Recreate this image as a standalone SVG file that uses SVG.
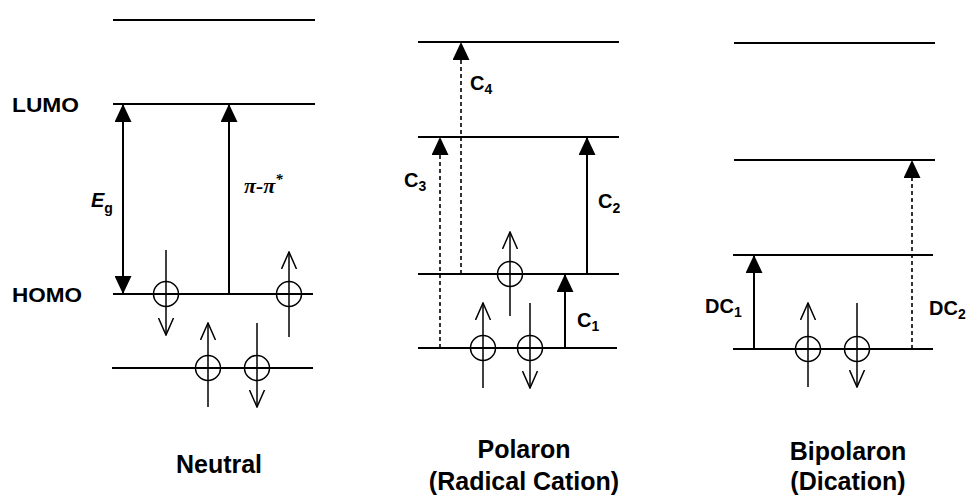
<svg xmlns="http://www.w3.org/2000/svg" width="971" height="497" viewBox="0 0 971 497">
<style>
.lvl{stroke:#000;stroke-width:2;fill:none}
.tr{stroke:#000;stroke-width:2;fill:none}
.dash{stroke:#000;stroke-width:1.6;fill:none;stroke-dasharray:4 3}
.spin{stroke:#000;stroke-width:1.5;fill:none}
.orb{stroke:#000;stroke-width:1.5;fill:none}
.lab{font-family:"Liberation Sans",Arial,sans-serif;font-weight:bold;fill:#000}
.big{font-size:25px;text-anchor:middle}
.side{font-size:20px}
.cl{font-size:20px}
.sub{font-size:14px}
.pi{font-family:"Liberation Serif","Times New Roman",serif;font-style:italic;font-weight:bold;font-size:22px;fill:#000}
</style>
<defs>
<marker id="tri" viewBox="0 0 18 17" refX="18" refY="8.5" markerWidth="18" markerHeight="17" orient="auto-start-reverse" markerUnits="userSpaceOnUse"><path d="M0,0 L18,8.5 L0,17 z" fill="#000"/></marker>
<marker id="vee" viewBox="0 0 18 17" refX="17" refY="8.5" markerWidth="18" markerHeight="17" orient="auto" markerUnits="userSpaceOnUse"><path d="M0,1 L17,8.5 L0,16" fill="none" stroke="#000" stroke-width="1.5"/></marker>
</defs>
<rect width="971" height="497" fill="#fff"/>

<!-- Neutral -->
<g id="neutral">
  <g id="n-top"><line class="lvl" x1="113" y1="20" x2="315" y2="20"/></g>
  <g id="n-lumo"><line class="lvl" x1="113" y1="104" x2="315" y2="104"/><text class="lab side" x="12" y="112" textLength="67" lengthAdjust="spacingAndGlyphs">LUMO</text></g>
  <g id="n-homo"><line class="lvl" x1="113" y1="294" x2="313" y2="294"/><text class="lab side" x="12" y="302" textLength="70" lengthAdjust="spacingAndGlyphs">HOMO</text></g>
  <g id="n-low"><line class="lvl" x1="112" y1="368" x2="313" y2="368"/></g>
  <g id="n-e1"><circle class="orb" cx="166" cy="294" r="12.5"/><line class="spin" x1="166" y1="250" x2="166" y2="335" marker-end="url(#vee)"/></g>
  <g id="n-e2"><circle class="orb" cx="289" cy="294" r="12.5"/><line class="spin" x1="289" y1="337" x2="289" y2="252" marker-end="url(#vee)"/></g>
  <g id="n-e3"><circle class="orb" cx="208" cy="368" r="12.5"/><line class="spin" x1="208" y1="407" x2="208" y2="323" marker-end="url(#vee)"/></g>
  <g id="n-e4"><circle class="orb" cx="257" cy="368" r="12.5"/><line class="spin" x1="257" y1="323" x2="257" y2="407" marker-end="url(#vee)"/></g>
  <text class="lab big" x="219" y="473">Neutral</text>
</g>

<!-- Polaron -->
<g id="polaron">
  <g id="p-l4"><line class="lvl" x1="418" y1="42" x2="619" y2="42"/></g>
  <g id="p-l3"><line class="lvl" x1="418" y1="137" x2="619" y2="137"/></g>
  <g id="p-l2"><line class="lvl" x1="418" y1="274" x2="619" y2="274"/></g>
  <g id="p-l1"><line class="lvl" x1="418" y1="348" x2="617" y2="348"/></g>
  <g id="p-e1"><circle class="orb" cx="510" cy="274" r="12.5"/><line class="spin" x1="510" y1="316" x2="510" y2="232" marker-end="url(#vee)"/></g>
  <g id="p-e2"><circle class="orb" cx="483" cy="348" r="12.5"/><line class="spin" x1="483" y1="388" x2="483" y2="303" marker-end="url(#vee)"/></g>
  <g id="p-e3"><circle class="orb" cx="530" cy="348" r="12.5"/><line class="spin" x1="530" y1="303" x2="530" y2="388" marker-end="url(#vee)"/></g>
  <text class="lab big" x="524" y="458">Polaron</text>
  <text class="lab big" x="524" y="490">(Radical Cation)</text>
</g>

<!-- Bipolaron -->
<g id="bipolaron">
  <g id="b-l4"><line class="lvl" x1="734" y1="43" x2="935" y2="43"/></g>
  <g id="b-l3"><line class="lvl" x1="734" y1="160" x2="935" y2="160"/></g>
  <g id="b-l2"><line class="lvl" x1="733" y1="255" x2="933" y2="255"/></g>
  <g id="b-l1"><line class="lvl" x1="733" y1="349" x2="933" y2="349"/></g>
  <g id="b-e1"><circle class="orb" cx="808" cy="349" r="12.5"/><line class="spin" x1="808" y1="387" x2="808" y2="303" marker-end="url(#vee)"/></g>
  <g id="b-e2"><circle class="orb" cx="857" cy="349" r="12.5"/><line class="spin" x1="857" y1="303" x2="857" y2="387" marker-end="url(#vee)"/></g>
  <text class="lab big" x="848" y="460">Bipolaron</text>
  <text class="lab big" x="848" y="490">(Dication)</text>
</g>

<!-- Transitions -->
<g id="connectors">
  <line class="tr" x1="123" y1="294" x2="123" y2="104" marker-start="url(#tri)" marker-end="url(#tri)"/>
  <text class="lab cl" x="91" y="207" font-style="italic">E<tspan class="sub" dy="6" font-style="normal">g</tspan></text>
  <line class="tr" x1="229" y1="294" x2="229" y2="104" marker-end="url(#tri)"/>
  <text class="pi" x="244" y="193">π-π<tspan font-size="15" dy="-9">*</tspan></text>

  <line class="dash" x1="461" y1="274" x2="461" y2="42" marker-end="url(#tri)"/>
  <text class="lab cl" x="470" y="90">C<tspan class="sub" dy="4">4</tspan></text>
  <line class="dash" x1="440" y1="348" x2="440" y2="137" marker-end="url(#tri)"/>
  <text class="lab cl" x="404" y="187">C<tspan class="sub" dy="4">3</tspan></text>
  <line class="tr" x1="587" y1="274" x2="587" y2="137" marker-end="url(#tri)"/>
  <text class="lab cl" x="598" y="208">C<tspan class="sub" dy="5">2</tspan></text>
  <line class="tr" x1="565" y1="348" x2="565" y2="274" marker-end="url(#tri)"/>
  <text class="lab cl" x="577" y="327">C<tspan class="sub" dy="4">1</tspan></text>

  <line class="tr" x1="754" y1="349" x2="754" y2="255" marker-end="url(#tri)"/>
  <text class="lab cl" x="705" y="313">DC<tspan class="sub" dy="4">1</tspan></text>
  <line class="dash" x1="912" y1="349" x2="912" y2="160" marker-end="url(#tri)"/>
  <text class="lab cl" x="929" y="315">DC<tspan class="sub" dy="4">2</tspan></text>
</g>
</svg>
